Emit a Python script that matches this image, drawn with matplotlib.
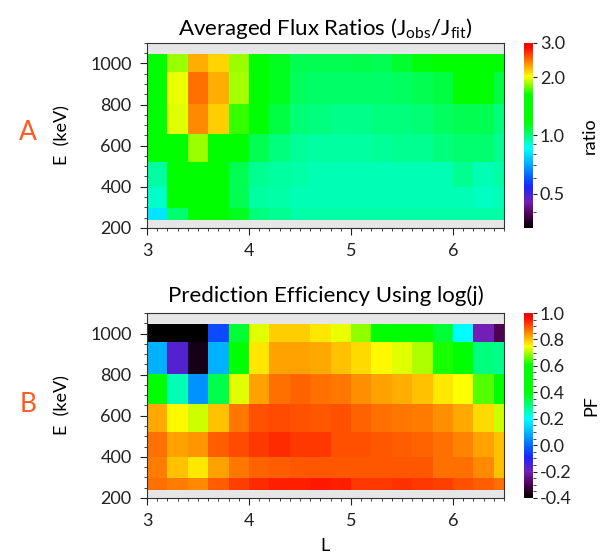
import numpy as np
import matplotlib
matplotlib.use("Agg")
import matplotlib.pyplot as plt
from matplotlib.colors import LinearSegmentedColormap, LogNorm, Normalize
from matplotlib.ticker import MultipleLocator, FixedLocator, FormatStrFormatter

plt.rcParams['font.family'] = ['Lato', 'DejaVu Sans']
plt.rcParams['mathtext.fontset'] = 'custom'
plt.rcParams['mathtext.rm'] = 'Lato'
plt.rcParams['axes.unicode_minus'] = True

# bin edges
L_edges = [3.0, 3.2, 3.4, 3.6, 3.8, 4.0, 4.2, 4.4, 4.6, 4.8,
           5.0, 5.2, 5.4, 5.6, 5.8, 6.0, 6.2, 6.4, 6.6]
E_edges = [240, 295, 400, 520, 655, 805, 960, 1045]

# averaged flux ratio, rows from low to high energy
ratio = [
    [0.81, 1.02, 1.3, 1.3, 1.12, 1.0, 0.98, 0.95, 0.95, 0.95, 0.95, 0.95, 0.95, 0.95, 0.95, 0.95, 0.95, 0.95],
    [0.91, 1.3, 1.3, 1.3, 1.06, 0.96, 0.95, 0.94, 0.94, 0.94, 0.94, 0.94, 0.94, 0.94, 0.94, 0.94, 0.92, 0.94],
    [0.96, 1.3, 1.3, 1.3, 1.06, 0.98, 0.96, 0.95, 0.94, 0.94, 0.94, 0.94, 0.94, 0.94, 0.94, 0.98, 0.94, 0.95],
    [1.3, 1.3, 1.85, 1.3, 1.3, 1.06, 1.0, 0.97, 0.96, 0.96, 0.96, 0.97, 0.98, 0.98, 1.0, 1.02, 1.02, 0.98],
    [1.3, 1.96, 2.36, 2.15, 1.7, 1.3, 1.08, 1.01, 1.0, 0.99, 0.99, 1.0, 1.0, 1.01, 1.04, 1.06, 1.06, 1.0],
    [1.3, 1.98, 2.46, 2.25, 1.87, 1.25, 1.12, 1.04, 1.03, 1.03, 1.03, 1.03, 1.04, 1.06, 1.08, 1.25, 1.25, 1.08],
    [1.3, 1.85, 2.25, 2.13, 1.85, 1.25, 1.12, 1.06, 1.06, 1.06, 1.07, 1.06, 1.1, 1.15, 1.25, 1.3, 1.3, 1.3],
]

# prediction efficiency
pf = [
    [0.874, 0.86, 0.85, 0.89, 0.915, 0.93, 0.945, 0.945, 0.95, 0.94, 0.92, 0.92, 0.925, 0.92, 0.915, 0.90, 0.89, 0.87],
    [0.86, 0.80, 0.77, 0.825, 0.867, 0.88, 0.89, 0.895, 0.895, 0.895, 0.895, 0.895, 0.895, 0.895, 0.874, 0.874, 0.85, 0.80],
    [0.874, 0.825, 0.84, 0.89, 0.905, 0.92, 0.93, 0.92, 0.92, 0.90, 0.90, 0.895, 0.89, 0.88, 0.87, 0.855, 0.825, 0.80],
    [0.82, 0.75, 0.72, 0.80, 0.867, 0.90, 0.905, 0.90, 0.895, 0.90, 0.88, 0.874, 0.867, 0.86, 0.846, 0.82, 0.78, 0.72],
    [0.44, 0.26, 0.05, 0.34, 0.727, 0.825, 0.874, 0.88, 0.874, 0.867, 0.846, 0.825, 0.818, 0.80, 0.77, 0.748, 0.65, 0.44],
    [0.09, -0.16, -0.37, 0.09, 0.41, 0.77, 0.825, 0.83, 0.82, 0.80, 0.78, 0.75, 0.727, 0.70, 0.62, 0.44, 0.30, 0.29],
    [-0.45, -0.45, -0.45, -0.04, 0.356, 0.727, 0.79, 0.79, 0.77, 0.734, 0.685, 0.5, 0.5, 0.5, 0.356, 0.2, -0.2, -0.3],
]

# rainbow colour table (black-purple-blue-cyan-green-yellow-red)
nodes = [
    (0.00, (0.0, 0.0, 0.0)),
    (0.07, (0.30, 0.0, 0.32)),
    (0.14, (0.45, 0.12, 0.70)),
    (0.22, (0.10, 0.15, 1.0)),
    (0.28, (0.0, 0.40, 1.0)),
    (0.35, (0.0, 0.70, 1.0)),
    (0.43, (0.0, 1.0, 1.0)),
    (0.57, (0.0, 1.0, 0.0)),
    (0.72, (0.0, 1.0, 0.0)),
    (0.82, (1.0, 1.0, 0.0)),
    (0.98, (1.0, 0.0, 0.0)),
    (1.00, (1.0, 0.0, 0.0)),
]
cmap = LinearSegmentedColormap.from_list('rainbow39', nodes, N=256)
cmap.set_under('black')
cmap.set_over('red')

fig = plt.figure(figsize=(6.05, 5.57), dpi=100)
ax1 = fig.add_axes([0.243, 0.591, 0.590, 0.332])
ax2 = fig.add_axes([0.243, 0.106, 0.590, 0.332])
cax1 = fig.add_axes([0.866, 0.591, 0.015, 0.332])
cax2 = fig.add_axes([0.866, 0.106, 0.015, 0.332])

m1 = ax1.pcolormesh(L_edges, E_edges, np.array(ratio), cmap=cmap,
                    norm=LogNorm(vmin=1/3., vmax=3.0))
m2 = ax2.pcolormesh(L_edges, E_edges, np.array(pf), cmap=cmap,
                    norm=Normalize(vmin=-0.4, vmax=1.0))

for ax in [ax1, ax2]:
    ax.set_facecolor('#e6e6e6')
    ax.set_xlim(3, 6.5)
    ax.set_ylim(200, 1100)
    ax.xaxis.set_major_locator(FixedLocator([3, 4, 5, 6]))
    ax.xaxis.set_minor_locator(MultipleLocator(0.1))
    ax.yaxis.set_major_locator(MultipleLocator(200))
    ax.yaxis.set_minor_locator(MultipleLocator(50))
    ax.tick_params(which='both', direction='out', labelsize=13, colors='#222222')
    ax.tick_params(which='major', length=5, pad=6)
    ax.tick_params(which='minor', length=2.5)
    for s in ax.spines.values():
        s.set_color('#333333')
    ax.set_ylabel('E  (keV)', fontsize=13, labelpad=14)

ax1.set_title('Averaged Flux Ratios (J$_{\\mathrm{obs}}$/J$_{\\mathrm{fit}}$)', fontsize=16, pad=6)
ax2.set_title('Prediction Efficiency Using log(j)', fontsize=16, pad=8)
ax2.set_xlabel('L', fontsize=13, labelpad=6)

cb1 = fig.colorbar(m1, cax=cax1)
cb1.set_ticks([0.5, 1.0, 2.0, 3.0])
cb1.ax.yaxis.set_major_formatter(FormatStrFormatter('%.1f'))
cb1.ax.yaxis.set_minor_formatter(plt.NullFormatter())
cb1.set_label('ratio', fontsize=13, labelpad=12)

cb2 = fig.colorbar(m2, cax=cax2)
cb2.set_ticks([-0.4, -0.2, 0.0, 0.2, 0.4, 0.6, 0.8, 1.0])
cb2.ax.yaxis.set_major_formatter(FormatStrFormatter('%.1f'))
cb2.ax.yaxis.set_minor_locator(MultipleLocator(0.05))
cb2.set_label('PF', fontsize=13, labelpad=8)

for cb in [cb1, cb2]:
    cb.outline.set_visible(False)
    cb.ax.tick_params(which='both', labelsize=13, colors='#222222', pad=2)
    cb.ax.tick_params(which='major', length=3)
    cb.ax.tick_params(which='minor', length=2)

fig.text(28/605, 1 - 133/557, 'A', color='#ff5a1e', fontsize=19, ha='center', va='center')
fig.text(28/605, 1 - 404/557, 'B', color='#ff5a1e', fontsize=19, ha='center', va='center')

fig.savefig('out.png', dpi=100)
